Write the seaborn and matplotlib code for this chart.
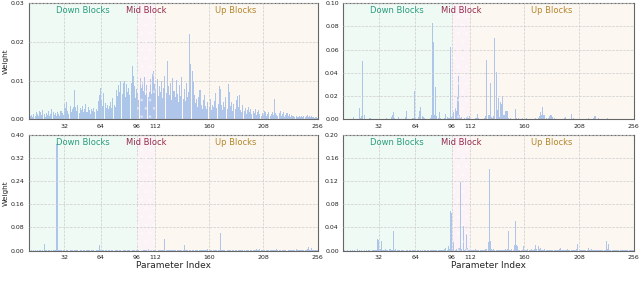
import numpy as np
import matplotlib
matplotlib.use("Agg")
import matplotlib.pyplot as plt
import seaborn as sns
from matplotlib.ticker import FormatStrFormatter

# parameter index 1..256
param_idx = np.arange(1, 257)

# top-left panel weights (dense)
w_top_left = [
    0.0020, 0.0008, 0.0012, 0.0006, 0.0015, 0.0010, 0.0019, 0.0013, 0.0009, 0.0022, 0.0018, 0.0011, 0.0024, 0.0014, 0.0007, 0.0016,
    0.0012, 0.0021, 0.0009, 0.0013, 0.0027, 0.0019, 0.0011, 0.0016, 0.0008, 0.0020, 0.0014, 0.0010, 0.0023, 0.0017, 0.0012, 0.0041,
    0.0030, 0.0046, 0.0022, 0.0014, 0.0035, 0.0019, 0.0026, 0.0031, 0.0075, 0.0033, 0.0021, 0.0038, 0.0016, 0.0029, 0.0024, 0.0035,
    0.0018, 0.0027, 0.0041, 0.0020, 0.0032, 0.0025, 0.0015, 0.0028, 0.0022, 0.0030, 0.0019, 0.0026, 0.0021, 0.0048, 0.0064, 0.0082,
    0.0051, 0.0035, 0.0067, 0.0042, 0.0030, 0.0038, 0.0026, 0.0034, 0.0045, 0.0029, 0.0056, 0.0037, 0.0031, 0.0075, 0.0060, 0.0088,
    0.0072, 0.0100, 0.0065, 0.0094, 0.0100, 0.0058, 0.0091, 0.0070, 0.0081, 0.0062, 0.0095, 0.0137, 0.0112, 0.0086, 0.0055, 0.0079,
    0.0069, 0.0050, 0.0108, 0.0082, 0.0096, 0.0074, 0.0110, 0.0063, 0.0090, 0.0058, 0.0071, 0.0104, 0.0066, 0.0118, 0.0126, 0.0091,
    0.0075, 0.0103, 0.0060, 0.0087, 0.0070, 0.0099, 0.0054, 0.0081, 0.0112, 0.0068, 0.0151, 0.0085, 0.0062, 0.0094, 0.0049, 0.0107,
    0.0073, 0.0058, 0.0102, 0.0066, 0.0045, 0.0089, 0.0061, 0.0110, 0.0052, 0.0079, 0.0048, 0.0093, 0.0057, 0.0070, 0.0220, 0.0142,
    0.0125, 0.0098, 0.0064, 0.0043, 0.0052, 0.0032, 0.0058, 0.0075, 0.0038, 0.0026, 0.0049, 0.0062, 0.0035, 0.0028, 0.0044, 0.0031,
    0.0052, 0.0025, 0.0038, 0.0033, 0.0047, 0.0068, 0.0029, 0.0041, 0.0085, 0.0078, 0.0036, 0.0024, 0.0045, 0.0031, 0.0058, 0.0027,
    0.0092, 0.0070, 0.0034, 0.0046, 0.0022, 0.0039, 0.0028, 0.0051, 0.0060, 0.0033, 0.0064, 0.0025, 0.0019, 0.0036, 0.0021, 0.0029,
    0.0015, 0.0024, 0.0032, 0.0018, 0.0026, 0.0013, 0.0021, 0.0017, 0.0027, 0.0011, 0.0019, 0.0024, 0.0014, 0.0009, 0.0016, 0.0012,
    0.0022, 0.0018, 0.0010, 0.0015, 0.0019, 0.0008, 0.0013, 0.0020, 0.0011, 0.0052, 0.0017, 0.0012, 0.0009, 0.0016, 0.0021, 0.0010,
    0.0014, 0.0019, 0.0007, 0.0012, 0.0017, 0.0009, 0.0013, 0.0006, 0.0011, 0.0008, 0.0010, 0.0005, 0.0009, 0.0007, 0.0006, 0.0008,
    0.0005, 0.0009, 0.0007, 0.0010, 0.0006, 0.0008, 0.0011, 0.0007, 0.0009, 0.0005, 0.0008, 0.0006, 0.0004, 0.0007, 0.0005, 0.0003,
]

# top-right panel weights (sparse)
w_top_right = [
    0, 0, 0.0003, 0, 0.0002, 0, 0, 0.0004, 0, 0.0020, 0, 0.0003, 0, 0.0005, 0.0095, 0.0008,
    0.0030, 0.0500, 0.0040, 0.0006, 0, 0.0003, 0, 0.0012, 0.0015, 0.0004, 0, 0.0002, 0, 0.0003, 0, 0.0004,
    0, 0.0006, 0.0003, 0, 0.0005, 0, 0.0012, 0.0002, 0.0004, 0, 0.0020, 0.0035, 0.0060, 0.0008, 0, 0.0004,
    0.0022, 0.0003, 0, 0.0005, 0, 0.0003, 0.0018, 0.0070, 0.0006, 0, 0.0003, 0, 0.0004, 0.0010, 0.0245, 0.0012,
    0.0003, 0.0005, 0.0025, 0.0070, 0.0110, 0.0030, 0.0025, 0.0008, 0.0004, 0.0006, 0.0002, 0.0004, 0.0010, 0.0035, 0.0830, 0.0670,
    0.0040, 0.0280, 0.0030, 0.0015, 0.0060, 0.0008, 0.0004, 0.0003, 0.0006, 0.0012, 0.0050, 0.0020, 0.0008, 0.0015, 0.0620, 0.0025,
    0.0030, 0.0060, 0.0100, 0.0070, 0.0190, 0.0370, 0.0040, 0.0015, 0.0022, 0.0006, 0.0010, 0.0004, 0.0020, 0.0030, 0.0008, 0.0030,
    0.0004, 0.0002, 0.0006, 0.0003, 0.0008, 0.0015, 0.0050, 0.0010, 0.0004, 0.0002, 0.0006, 0.0003, 0.0012, 0.0030, 0.0510, 0.0040,
    0.0040, 0.0310, 0.0025, 0.0010, 0.0030, 0.0700, 0.0410, 0.0080, 0.0180, 0.0020, 0.0150, 0.0130, 0.0200, 0.0040, 0.0070, 0.0070,
    0.0070, 0.0008, 0.0004, 0.0010, 0.0006, 0.0003, 0.0005, 0.0090, 0.0008, 0.0004, 0.0012, 0.0003, 0.0006, 0.0010, 0.0004, 0.0005,
    0.0003, 0.0008, 0.0004, 0.0002, 0.0006, 0.0004, 0.0003, 0.0006, 0.0004, 0.0010, 0.0006, 0.0015, 0.0030, 0.0060, 0.0040, 0.0105,
    0.0035, 0.0040, 0.0010, 0.0006, 0.0008, 0.0030, 0.0040, 0.0035, 0.0025, 0.0008, 0.0004, 0.0003, 0.0006, 0.0004, 0.0003, 0.0005,
    0.0003, 0.0004, 0.0008, 0.0022, 0.0003, 0.0004, 0.0002, 0.0006, 0.0045, 0.0004, 0.0008, 0.0003, 0.0005, 0.0002, 0.0004, 0.0006,
    0.0003, 0.0005, 0.0002, 0.0004, 0.0006, 0.0004, 0.0003, 0.0008, 0.0003, 0.0005, 0.0002, 0.0004, 0.0012, 0.0030, 0.0004, 0.0002,
    0.0008, 0.0003, 0.0002, 0.0005, 0.0004, 0.0002, 0.0006, 0.0003, 0.0012, 0.0004, 0.0002, 0.0003, 0.0005, 0.0002, 0.0004, 0.0003,
    0.0002, 0.0004, 0.0003, 0.0006, 0.0002, 0.0003, 0.0005, 0.0002, 0.0004, 0.0003, 0.0002, 0.0005, 0.0003, 0.0002, 0.0004, 0.0003,
]

# bottom-left panel weights
w_bottom_left = [
    0.0005, 0, 0.0003, 0, 0.0004, 0.0002, 0, 0.0003, 0, 0.0005, 0.0002, 0, 0.0004, 0.0240, 0.0006, 0.0002,
    0, 0.0003, 0.0002, 0, 0.0004, 0.0003, 0.0008, 0.0015, 0.3700, 0.3750, 0.0020, 0.0004, 0.0002, 0, 0.0003, 0.0002,
    0, 0.0004, 0.0002, 0, 0.0003, 0.0005, 0.0002, 0, 0.0004, 0.0002, 0.0006, 0.0003, 0, 0.0002, 0.0004, 0,
    0.0003, 0.0002, 0, 0.0004, 0.0002, 0.0003, 0, 0.0002, 0.0005, 0.0003, 0, 0.0002, 0.0004, 0.0010, 0.0190, 0.0020,
    0.0004, 0.0008, 0.0030, 0.0004, 0.0002, 0, 0.0003, 0.0002, 0, 0.0004, 0.0002, 0, 0.0003, 0.0002, 0.0004, 0,
    0.0002, 0.0003, 0, 0.0002, 0.0004, 0.0002, 0, 0.0003, 0.0002, 0.0005, 0, 0.0002, 0.0003, 0.0002, 0, 0.0004,
    0.0002, 0.0003, 0, 0.0002, 0.0004, 0.0002, 0.0003, 0.0008, 0.0015, 0.0040, 0.0010, 0.0003, 0.0002, 0, 0.0004, 0.0002,
    0.0003, 0, 0.0002, 0.0004, 0.0002, 0.0003, 0.0006, 0.0012, 0.0400, 0.0015, 0.0004, 0.0002, 0.0003, 0.0008, 0.0030, 0.0006,
    0.0002, 0.0003, 0, 0.0004, 0.0002, 0.0003, 0.0005, 0.0010, 0.0020, 0.0180, 0.0012, 0.0003, 0.0002, 0, 0.0004, 0.0002,
    0.0003, 0.0002, 0, 0.0004, 0.0002, 0.0003, 0, 0.0002, 0.0004, 0.0002, 0.0003, 0.0005, 0.0008, 0.0015, 0.0040, 0.0006,
    0.0002, 0.0003, 0, 0.0002, 0.0004, 0.0002, 0.0005, 0.0010, 0.0020, 0.0620, 0.0015, 0.0004, 0.0002, 0.0003, 0, 0.0002,
    0.0004, 0.0002, 0.0003, 0, 0.0002, 0.0004, 0.0002, 0.0003, 0, 0.0002, 0.0004, 0.0002, 0.0003, 0.0005, 0.0002, 0,
    0.0003, 0.0002, 0.0004, 0, 0.0002, 0.0003, 0.0006, 0.0010, 0.0020, 0.0040, 0.0015, 0.0025, 0.0050, 0.0012, 0.0004, 0.0002,
    0.0003, 0, 0.0002, 0.0004, 0.0002, 0.0003, 0.0005, 0.0008, 0.0012, 0.0020, 0.0015, 0.0040, 0.0010, 0.0003, 0.0002, 0,
    0.0004, 0.0002, 0.0003, 0.0002, 0, 0.0004, 0.0002, 0.0003, 0.0008, 0.0012, 0.0020, 0.0015, 0.0060, 0.0025, 0.0008, 0.0003,
    0.0002, 0.0004, 0.0003, 0.0006, 0.0010, 0.0020, 0.0040, 0.0110, 0.0030, 0.0015, 0.0090, 0.0020, 0.0008, 0.0004, 0.0003, 0.0002,
]

# bottom-right panel weights
w_bottom_right = [
    0, 0.0002, 0, 0.0003, 0, 0, 0.0002, 0, 0.0003, 0, 0.0002, 0, 0.0020, 0, 0.0003, 0,
    0.0010, 0, 0.0002, 0, 0.0003, 0, 0.0002, 0.0005, 0, 0.0003, 0.0002, 0.0004, 0.0006, 0.0010, 0.0200, 0.0180,
    0.0030, 0.0170, 0.0010, 0.0003, 0.0005, 0.0020, 0.0004, 0.0010, 0.0030, 0.0025, 0.0008, 0.0015, 0.0340, 0.0012, 0.0020, 0.0004,
    0.0002, 0.0003, 0, 0.0005, 0.0010, 0.0003, 0, 0.0002, 0.0003, 0, 0.0002, 0.0004, 0, 0.0002, 0.0003, 0.0002,
    0, 0.0003, 0.0002, 0, 0.0004, 0.0002, 0, 0.0003, 0.0002, 0, 0.0002, 0.0004, 0.0006, 0.0003, 0.0008, 0.0004,
    0.0006, 0.0010, 0.0004, 0.0008, 0.0005, 0.0010, 0.0006, 0.0004, 0.0012, 0.0020, 0.0040, 0.0015, 0.0070, 0.0030, 0.0680, 0.0650,
    0.0030, 0.0160, 0.0010, 0.0020, 0.0012, 0.0040, 0.0035, 0.1180, 0.0030, 0.0430, 0.0015, 0.0020, 0.0280, 0.0040, 0.0010, 0.0006,
    0.0008, 0.0004, 0.0010, 0.0006, 0.0020, 0.0015, 0.0008, 0.0010, 0.0006, 0.0004, 0.0008, 0.0005, 0.0010, 0.0020, 0.0030, 0.0150,
    0.1420, 0.0170, 0.0030, 0.0015, 0.0020, 0.0010, 0.0006, 0.0012, 0.0008, 0.0010, 0.0005, 0.0008, 0.0012, 0.0010, 0.0020, 0.0015,
    0.0030, 0.0340, 0.0010, 0.0006, 0.0020, 0.0015, 0.0100, 0.0510, 0.0090, 0.0085, 0.0015, 0.0010, 0.0006, 0.0012, 0.0070, 0.0010,
    0.0006, 0.0010, 0.0020, 0.0012, 0.0008, 0.0030, 0.0015, 0.0008, 0.0020, 0.0100, 0.0030, 0.0080, 0.0020, 0.0050, 0.0012, 0.0008,
    0.0015, 0.0030, 0.0008, 0.0006, 0.0012, 0.0010, 0.0005, 0.0015, 0.0008, 0.0010, 0.0006, 0.0012, 0.0008, 0.0010, 0.0020, 0.0050,
    0.0010, 0.0006, 0.0008, 0.0004, 0.0010, 0.0020, 0.0006, 0.0004, 0.0008, 0.0005, 0.0003, 0.0006, 0.0004, 0.0020, 0.0120, 0.0010,
    0.0004, 0.0006, 0.0003, 0.0005, 0.0008, 0.0004, 0.0015, 0.0040, 0.0010, 0.0008, 0.0030, 0.0006, 0.0004, 0.0003, 0.0005, 0.0002,
    0.0004, 0.0003, 0.0006, 0.0004, 0.0002, 0.0005, 0.0010, 0.0160, 0.0020, 0.0110, 0.0006, 0.0004, 0.0003, 0.0002, 0.0004, 0.0003,
    0.0002, 0.0004, 0.0003, 0.0002, 0.0005, 0.0003, 0.0010, 0.0004, 0.0002, 0.0003, 0.0002, 0.0004, 0.0006, 0.0003, 0.0002, 0.0004,
]

x_ticks = [32, 64, 96, 112, 160, 208, 256]
block_bounds = [96, 112]
block_names = ["Down Blocks", "Mid Block", "Up Blocks"]
block_label_x = [48, 104, 184]

panels = [
    (w_top_left, [0.045, 0.581, 0.452, 0.408], [0, 0.01, 0.02, 0.03], True, False),
    (w_top_right, [0.536, 0.581, 0.455, 0.408], [0, 0.02, 0.04, 0.06, 0.08, 0.10], False, False),
    (w_bottom_left, [0.045, 0.121, 0.452, 0.405], [0, 0.08, 0.16, 0.24, 0.32, 0.40], True, True),
    (w_bottom_right, [0.536, 0.121, 0.455, 0.405], [0, 0.04, 0.08, 0.12, 0.16, 0.20], False, True),
]

sns.set_style("white")
fig = plt.figure(figsize=(6.4, 2.85), dpi=100)

span_colors = ["#effaf5", "#fcf3f6", "#fcf8f1"]
label_colors = ["#2a9d7c", "#962a4e", "#b5862e"]

for w, pos, yticks, show_ylabel, show_xlabel in panels:
    ax = fig.add_axes(pos)
    ax.axvspan(0.5, block_bounds[0], color=span_colors[0], zorder=0, lw=0)
    ax.axvspan(block_bounds[0], block_bounds[1], color=span_colors[1], zorder=0, lw=0)
    ax.axvspan(block_bounds[1], 256.5, color=span_colors[2], zorder=0, lw=0)
    # faint dotted overlay on the mid block
    ax.axvspan(block_bounds[0], block_bounds[1], facecolor="none", edgecolor="#ffffff",
               hatch="..", lw=0, alpha=0.35, zorder=3)

    sns.barplot(x=param_idx, y=w, native_scale=True, color="#8fb6f5", alpha=0.8,
                width=0.9, linewidth=0, ax=ax, zorder=2)

    ax.set_xlim(0.5, 256.5)
    ax.set_ylim(yticks[0], yticks[-1])
    ax.set_xticks(x_ticks)
    ax.set_yticks(yticks)
    ax.yaxis.set_major_formatter(FormatStrFormatter("%.2f"))
    ax.tick_params(labelsize=4.5, length=1.8, width=0.5, pad=1.2, colors="#222222")
    ax.grid(True, ls="--", lw=0.5, color="#cccccc", zorder=1)
    ax.set_axisbelow(False)
    for s in ax.spines.values():
        s.set_color("#666666")
        s.set_linewidth(0.8)

    for name, xl, c in zip(block_names, block_label_x, label_colors):
        ax.text(xl, yticks[-1] * 0.94, name, color=c, fontsize=6, ha="center", va="center", zorder=4)

    if show_ylabel:
        ax.set_ylabel("Weight", fontsize=5.3)
        ax.yaxis.set_label_coords(-0.071, 0.5)
    else:
        ax.set_ylabel("")
    ax.set_xlabel("Parameter Index" if show_xlabel else "", fontsize=6.5, labelpad=1)

fig.savefig("out.png", dpi=100)
